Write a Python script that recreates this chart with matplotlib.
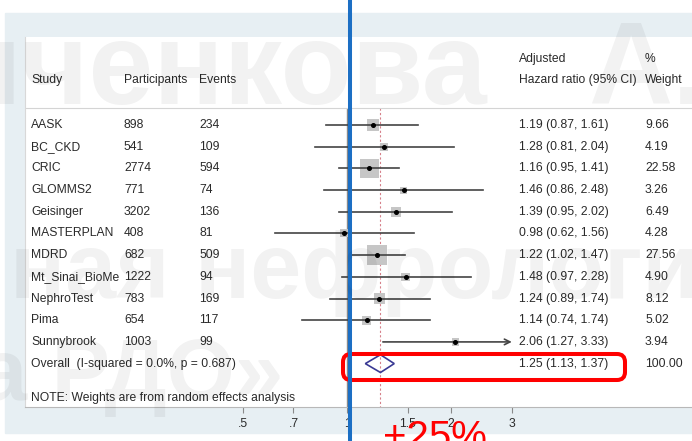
import numpy as np
import matplotlib.pyplot as plt
from matplotlib.lines import Line2D
from matplotlib.patches import Polygon, Rectangle, FancyBboxPatch
from matplotlib.ticker import NullLocator
from matplotlib.transforms import blended_transform_factory

plt.rcParams['font.family'] = ['Liberation Sans', 'DejaVu Sans']

# per-study results
studies = ["AASK", "BC_CKD", "CRIC", "GLOMMS2", "Geisinger", "MASTERPLAN",
           "MDRD", "Mt_Sinai_BioMe", "NephroTest", "Pima", "Sunnybrook"]
participants = [898, 541, 2774, 771, 3202, 408, 682, 1222, 783, 654, 1003]
events = [234, 109, 594, 74, 136, 81, 509, 94, 169, 117, 99]
hr = [1.19, 1.28, 1.16, 1.46, 1.39, 0.98, 1.22, 1.48, 1.24, 1.14, 2.06]
ci_lo = [0.87, 0.81, 0.95, 0.86, 0.95, 0.62, 1.02, 0.97, 0.89, 0.74, 1.27]
ci_hi = [1.61, 2.04, 1.41, 2.48, 2.02, 1.56, 1.47, 2.28, 1.74, 1.74, 3.33]
weights = [9.66, 4.19, 22.58, 3.26, 6.49, 4.28, 27.56, 4.90, 8.12, 5.02, 3.94]

# pooled estimate
overall_label = "Overall  (I-squared = 0.0%, p = 0.687)"
overall_hr, overall_lo, overall_hi = 1.25, 1.13, 1.37
overall_weight = 100.00

xticks = [0.5, 0.7, 1, 1.5, 2, 3]
xtick_labels = [".5", ".7", "1", "1.5", "2", "3"]
x_clip = 3

W, H = 692, 441
fig = plt.figure(figsize=(W / 100, H / 100), dpi=100)

# pale frame behind the plot region
fig.patches.append(Rectangle((5 / W, 8 / H), 1 - 5 / W, 420 / H,
                             transform=fig.transFigure, color="#e7eff3",
                             zorder=-1))

ax = fig.add_axes([25 / W, 34 / H, 667 / W, 370 / H])
ax.set_xscale("log")
ax.set_xlim(np.exp(-322 / 150), np.exp(345 / 150))
ax.set_ylim(13.0, -4.055)

n = len(studies)
rows = np.arange(n)
ov_row = n
sep_row = -0.78

ax.axhline(sep_row, color="#d4d4d4", lw=0.8)
ax.vlines(1, sep_row, 13.0, color="#8a8a8a", lw=1.0, zorder=1)
ax.vlines(overall_hr, sep_row, 13.0, color="#d6808a", lw=0.8,
          linestyles=(0, (2, 2)), zorder=1)

# study boxes sized by weight, CI lines, point estimates
side_px = 3.9 * np.sqrt(weights)
ax.scatter(hr, rows, marker="s", s=(side_px * 0.72) ** 2, color="#c6c6c6",
           linewidths=0, zorder=2)
for i in range(n):
    if ci_hi[i] > x_clip:
        ax.annotate("", xy=(x_clip, i), xytext=(ci_lo[i], i),
                    arrowprops=dict(arrowstyle="->", color="#444444", lw=1.2,
                                    shrinkA=0, shrinkB=0), zorder=3)
    else:
        ax.plot([ci_lo[i], ci_hi[i]], [i, i], color="#444444", lw=1.2, zorder=3)
ax.plot(hr, rows, "o", ms=2.6, color="black", zorder=4)

diamond = Polygon([(overall_lo, ov_row), (overall_hr, ov_row - 0.41),
                   (overall_hi, ov_row), (overall_hr, ov_row + 0.41)],
                  closed=True, fill=False, edgecolor="#3a3a94", lw=1.2, zorder=4)
ax.add_patch(diamond)

# text columns
tr = blended_transform_factory(fig.transFigure, ax.transData)
fs = 8.7
tc = "#2a2a2a"
col_study, col_part, col_events, col_hr, col_w = 31 / W, 124 / W, 199 / W, 519 / W, 645 / W
ax.text(col_hr, -3.04, "Adjusted", transform=tr, fontsize=fs, color=tc, va="center")
ax.text(col_w, -3.04, "%", transform=tr, fontsize=fs, color=tc, va="center")
for x, s in [(col_study, "Study"), (col_part, "Participants"), (col_events, "Events"),
             (col_hr, "Hazard ratio (95% CI)"), (col_w, "Weight")]:
    ax.text(x, -2.07, s, transform=tr, fontsize=fs, color=tc, va="center")

for i in range(n):
    ax.text(col_study, i, studies[i], transform=tr, fontsize=fs, color=tc, va="center")
    ax.text(col_part, i, str(participants[i]), transform=tr, fontsize=fs, color=tc, va="center")
    ax.text(col_events, i, str(events[i]), transform=tr, fontsize=fs, color=tc, va="center")
    ax.text(col_hr, i, f"{hr[i]:.2f} ({ci_lo[i]:.2f}, {ci_hi[i]:.2f})", transform=tr,
            fontsize=fs, color=tc, va="center")
    ax.text(col_w, i, f"{weights[i]:.2f}", transform=tr, fontsize=fs, color=tc, va="center")

ax.text(col_study, ov_row, overall_label, transform=tr, fontsize=fs, color=tc, va="center")
ax.text(col_hr, ov_row, f"{overall_hr:.2f} ({overall_lo:.2f}, {overall_hi:.2f})",
        transform=tr, fontsize=fs, color=tc, va="center")
ax.text(col_w, ov_row, f"{overall_weight:.2f}", transform=tr, fontsize=fs, color=tc, va="center")
ax.text(col_study, 12.58, "NOTE: Weights are from random effects analysis", transform=tr,
        fontsize=fs, color=tc, va="center")

ax.set_xticks(xticks)
ax.set_xticklabels(xtick_labels)
ax.xaxis.set_minor_locator(NullLocator())
ax.tick_params(axis="x", length=4, color="#8a8a8a", labelsize=fs, labelcolor=tc, pad=4)
ax.set_yticks([])
for side in ("top", "right"):
    ax.spines[side].set_visible(False)
ax.spines["left"].set_color("#d8d8d8")
ax.spines["bottom"].set_color("#b8b8b8")

# highlight of the pooled row
fig.patches.append(FancyBboxPatch((3.43, (H - 380) / 100), 2.82, 0.26,
                                  boxstyle="round,pad=0,rounding_size=0.08",
                                  transform=fig.dpi_scale_trans, fill=False,
                                  edgecolor="#ff0000", lw=2.9, zorder=5))
fig.add_artist(Line2D([350 / W, 350 / W], [0, 1], transform=fig.transFigure,
                      color="#1c6fc4", lw=2.9, zorder=6))
fig.text(383 / W, (H - 449) / H, "+25%", fontsize=29, color="#ff0000",
         va="baseline", zorder=6)

# watermark
wm = dict(fontweight="bold", color="black", alpha=0.05, zorder=7, va="baseline")
fig.text(-50 / W, (H - 104) / H, "иченкова", fontsize=84, **wm)
fig.text(588 / W, (H - 104) / H, "А.", fontsize=84, **wm)
fig.text(10 / W, (H - 298) / H, "ная нефрологич", fontsize=66, **wm)
fig.text(-77 / W, (H - 400) / H, "ла РДО»", fontsize=63, **wm)

fig.savefig("out.png", dpi=100)
